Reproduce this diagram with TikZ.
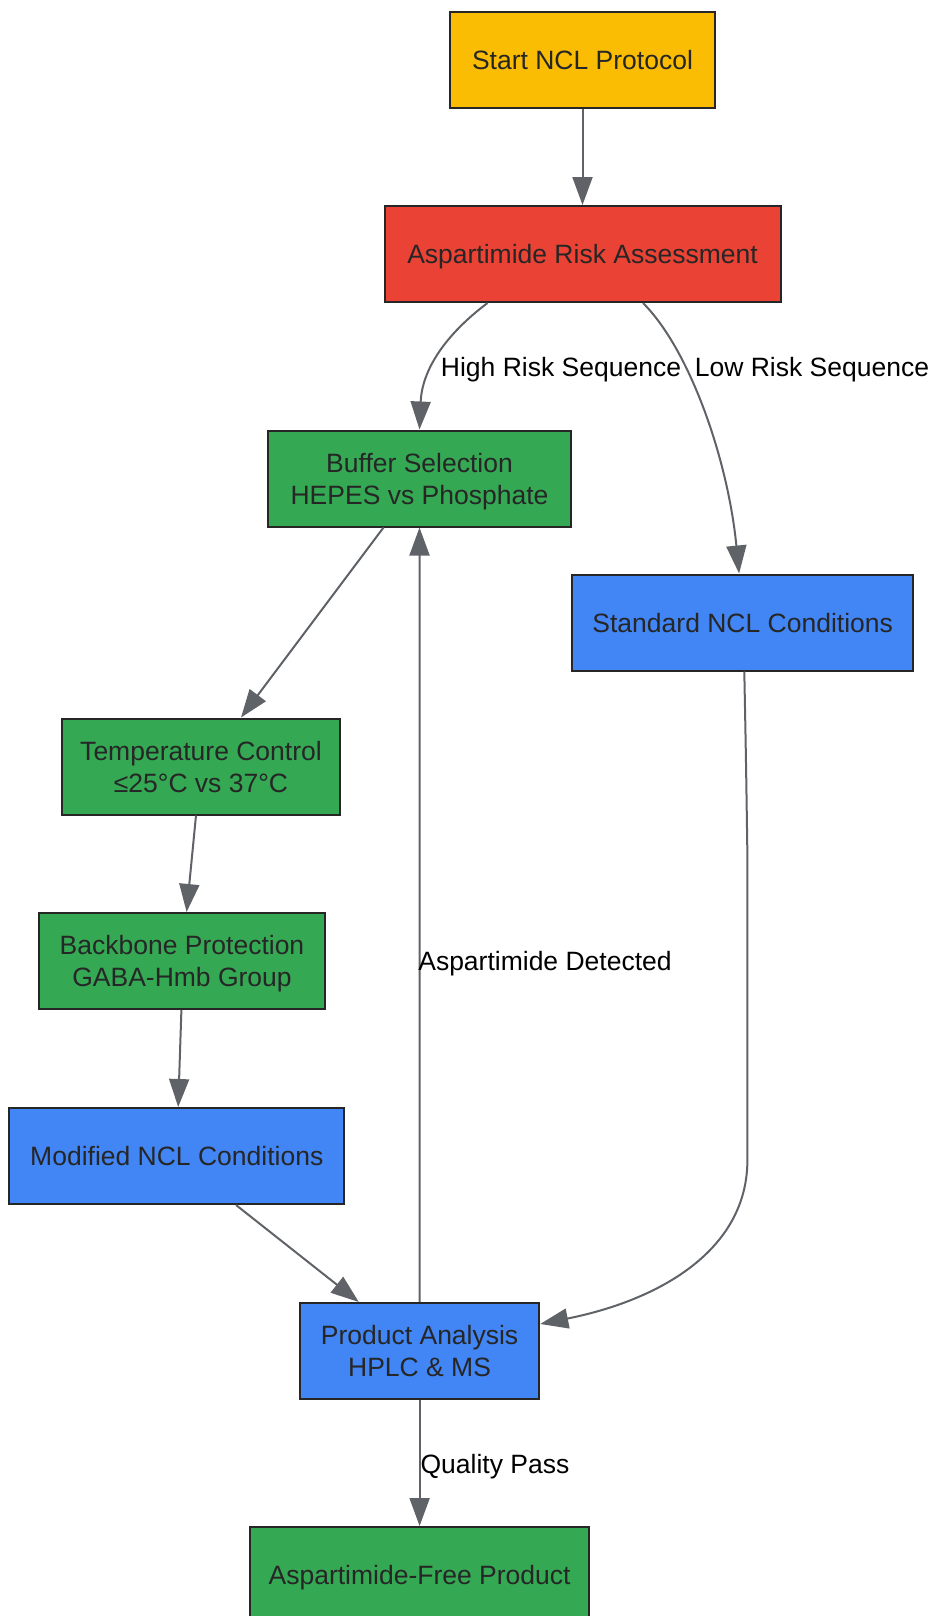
\documentclass[tikz,border=0pt]{standalone}
\usepackage{fontspec}
\setmainfont{Liberation Sans}
\usepackage{tikz}
\usetikzlibrary{arrows.meta}
\usetikzlibrary{positioning}

\definecolor{gyellow}{HTML}{FBBC04}
\definecolor{gred}{HTML}{EA4335}
\definecolor{ggreen}{HTML}{34A853}
\definecolor{gblue}{HTML}{4285F4}
\definecolor{edgegray}{HTML}{5F6368}
\definecolor{boxline}{HTML}{262626}

\tikzset{
	box/.style={draw=boxline, line width=1pt, text=boxline, align=center, minimum height=48pt, inner sep=2pt, text depth=0pt, font=\fontsize{13.25}{16}\selectfont},
	startbox/.style={box, fill=gyellow},
	riskbox/.style={box, fill=gred},
	greenbox/.style={box, fill=ggreen},
	bluebox/.style={box, fill=gblue},
	flow/.style={draw=edgegray, line width=1pt, -{Triangle[length=14pt,width=10pt]}},
	lbl/.style={text=black, inner sep=0pt, text depth=0pt, font=\fontsize{13.25}{16}\selectfont}
}

\begin{document}
\begin{tikzpicture}[x=0.5pt,y=-0.5pt]
			
			\useasboundingbox (0,0) rectangle (934,1616);
			
			\node[startbox, minimum width=132.5pt] (start) at (582.5,60) {Start NCL Protocol};
			\node[riskbox, minimum width=198pt] (risk) at (582.5,254) {Aspartimide Risk Assessment};
			\node[greenbox, minimum width=151.5pt] (buffer) at (419.5,478.5) {Buffer Selection\\HEPES vs Phosphate};
			\node[bluebox, minimum width=170.7pt] (stdncl) at (742.7,622.5) {Standard NCL Conditions};
			\node[greenbox, minimum width=139pt] (temp) at (201,766.5) {Temperature Control\\≤25°C vs 37°C};
			\node[greenbox, minimum width=142.7pt] (backbone) at (182,961) {Backbone Protection\\GABA-Hmb Group};
			\node[bluebox, minimum width=167.5pt] (modncl) at (176.8,1156) {Modified NCL Conditions};
			\node[bluebox, minimum width=119.6pt] (analysis) at (419.6,1351) {Product Analysis\\HPLC \& MS};
			\node[greenbox, minimum width=169.6pt] (final) at (419.6,1575) {Aspartimide-Free Product};
			
			\coordinate (bendtop) at (747.4,856);
			\coordinate (bendlow) at (747.4,1160);
			
			\draw[flow] (start) -- (risk);
			\draw[flow] ([xshift=-47.5pt]risk.south) .. controls (445,335) and (422,370) .. (buffer.north);
			\draw[flow] ([xshift=30.25pt]risk.south) .. controls (690,350) and (728,460) .. ([xshift=-1.8pt]stdncl.north);
			\draw[flow] ([xshift=-18pt]buffer.south) -- ([xshift=20pt]temp.north);
			\draw[flow] ([xshift=-2.5pt]temp.south) -- ([xshift=2.3pt]backbone.north);
			\draw[flow] ([xshift=-0.3pt]backbone.south) -- ([xshift=0.7pt]modncl.north);
			\draw[flow] ([xshift=29.6pt]modncl.south) -- ([xshift=-30.4pt]analysis.north);
			\draw[flow] ([xshift=0.8pt]stdncl.south) .. controls (746,760) .. (bendtop) -- (bendlow) .. controls (747.4,1250) and (660,1300) .. ([yshift=13.5pt]analysis.east);
			\draw[flow] (analysis.north) -- (buffer.south);
			\draw[flow] (analysis) -- (final);
			
			\node[lbl] (lhigh) at (561,367) {High Risk Sequence};
			\node[lbl] (llow) at (812,367) {Low Risk Sequence};
			\node[lbl] (ldet) at (545,961) {Aspartimide Detected};
			\node[lbl] (lpass) at (495,1464) {Quality Pass};
			
\end{tikzpicture}
\end{document}
